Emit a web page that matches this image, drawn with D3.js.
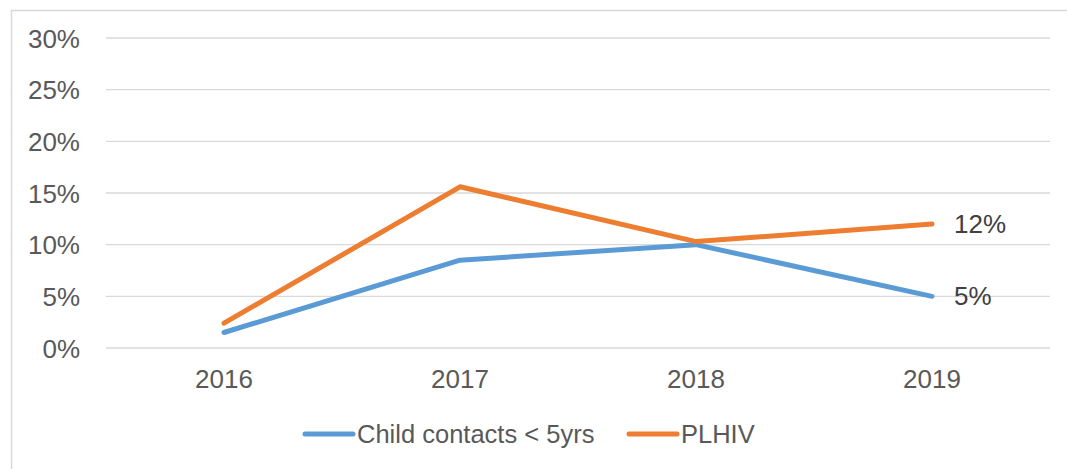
<!DOCTYPE html>
<html>
<head>
<meta charset="utf-8">
<script src="https://cdn.jsdelivr.net/npm/d3@7"></script>
<style>
    body { margin: 0; background: #fff; }
    svg { display: block; font-family: "Liberation Sans", Arial, sans-serif; }
</style>
</head>
<body>
<div id="chart"></div>
<script>

var years = ["2016", "2017", "2018", "2019"];
var childContacts = [1.5, 8.5, 10, 5];
var plhiv = [2.4, 15.6, 10.3, 12];
var yTicks = [0, 5, 10, 15, 20, 25, 30];
var seriesNames = ["Child contacts < 5yrs", "PLHIV"];
var seriesColors = ["#5B9BD5", "#ED7D31"];

var width = 1067, height = 469;

var margin = {
        top: 38,
        right: 17,
        bottom: 121,
        left: 106
    },
    plotW = width - margin.left - margin.right,
    plotH = height - margin.top - margin.bottom;

var svg = d3.select("#chart").append("svg")
    .attr("width", width)
    .attr("height", height);

// outer frame (runs off the right/bottom edge like the original)
svg.append("rect")
    .attr("x", 11.5)
    .attr("y", 10.5)
    .attr("width", 1070)
    .attr("height", 470)
    .style("fill", "none")
    .style("stroke", "#D9D9D9")
    .style("stroke-width", 1.5);

var g = svg.append("g")
    .attr("transform", "translate(" + margin.left + "," + margin.top + ")");

var x = d3.scaleBand()
    .domain(years)
    .range([0, plotW])
    .padding(0);

var y = d3.scaleLinear()
    .domain([0, 30])
    .range([plotH, 0]);

// gridlines
g.append("g")
    .selectAll("line")
    .data(yTicks)
    .enter()
    .append("line")
    .attr("x1", 0)
    .attr("x2", plotW)
    .attr("y1", function (d) { return y(d); })
    .attr("y2", function (d) { return y(d); })
    .style("stroke", "#D9D9D9")
    .style("stroke-width", 1.3);

var yAxis = d3.axisLeft(y)
    .tickValues(yTicks)
    .tickSize(0)
    .tickPadding(26)
    .tickFormat(function (d) { return d + "%"; });

var yG = g.append("g").call(yAxis);
yG.select(".domain").remove();
yG.selectAll("text")
    .style("font-size", "26px")
    .style("fill", "#595959")
    .attr("dy", "0.35em");

var xAxis = d3.axisBottom(x).tickSize(0).tickPadding(22);
var xG = g.append("g")
    .attr("transform", "translate(0," + plotH + ")")
    .call(xAxis);
xG.select(".domain").remove();
xG.selectAll("text")
    .style("font-size", "26px")
    .style("fill", "#595959");

var line = d3.line()
    .x(function (d, i) { return x(years[i]) + x.bandwidth() / 2; })
    .y(function (d) { return y(d); });

[childContacts, plhiv].forEach(function (series, k) {
    g.append("path")
        .datum(series)
        .attr("d", line)
        .style("fill", "none")
        .style("stroke", seriesColors[k])
        .style("stroke-width", 5)
        .style("stroke-linecap", "round")
        .style("stroke-linejoin", "round");

    // label the last point
    var last = series.length - 1;
    g.append("text")
        .attr("x", x(years[last]) + x.bandwidth() / 2 + 22)
        .attr("y", y(series[last]))
        .attr("dy", "0.35em")
        .style("font-size", "26px")
        .style("fill", "#404040")
        .text(series[last] + "%");
});

// legend
var legend = svg.append("g").attr("transform", "translate(0,434)");
var legendX = [305, 629];
seriesNames.forEach(function (name, k) {
    legend.append("line")
        .attr("x1", legendX[k])
        .attr("x2", legendX[k] + 48)
        .attr("y1", 0)
        .attr("y2", 0)
        .style("stroke", seriesColors[k])
        .style("stroke-width", 5)
        .style("stroke-linecap", "round");
    legend.append("text")
        .attr("x", legendX[k] + 52)
        .attr("y", 0)
        .attr("dy", "0.35em")
        .style("font-size", "25.5px")
        .style("fill", "#595959")
        .text(name);
});

</script>
</body>
</html>
